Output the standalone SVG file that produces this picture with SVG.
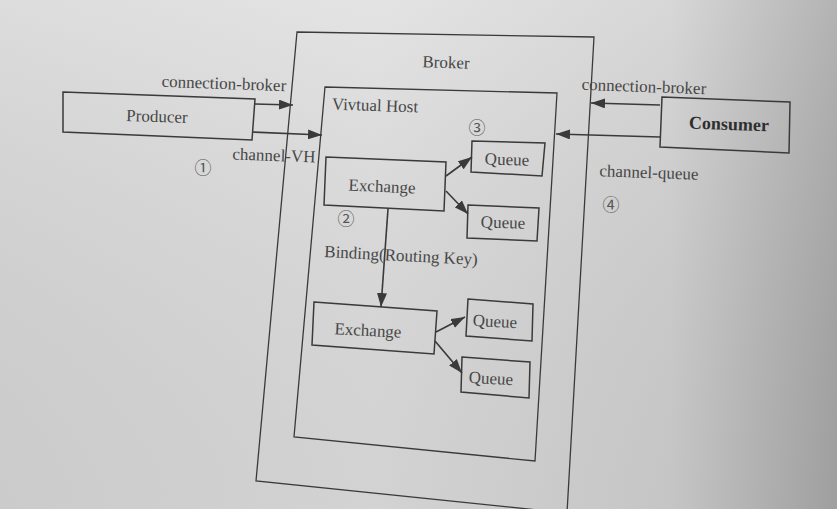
<svg xmlns="http://www.w3.org/2000/svg" width="837" height="509" viewBox="0 0 837 509">
<defs>
<linearGradient id="bg" x1="0" y1="0" x2="1" y2="0">
<stop offset="0" stop-color="#d8d8d8"/>
<stop offset="0.45" stop-color="#e0e0e0"/>
<stop offset="0.8" stop-color="#d2d2d2"/>
<stop offset="1" stop-color="#a9a9a9"/>
</linearGradient>
<linearGradient id="bgv" x1="0" y1="0" x2="0" y2="1">
<stop offset="0" stop-color="#ffffff" stop-opacity="0.12"/>
<stop offset="1" stop-color="#000000" stop-opacity="0.06"/>
</linearGradient>
<marker id="ah" viewBox="0 0 14 10" refX="14" refY="5" markerWidth="14" markerHeight="10" markerUnits="userSpaceOnUse" orient="auto">
<path d="M0,0 L14,5 L0,10 Z" fill="#3a3a3a"/>
</marker>
<style>
.box{fill:none;stroke:#3a3a3a;stroke-width:1.5}
.thin{fill:none;stroke:#3a3a3a;stroke-width:1.3}
.t{font-family:"Liberation Serif","Times New Roman",serif;font-size:17px;fill:#474747;text-anchor:middle}
.n{font-family:"Liberation Serif","Noto Sans CJK SC",serif;font-size:17px;fill:#555;text-anchor:middle}
.c{stroke:#3a3a3a;stroke-width:1.6;fill:none;marker-end:url(#ah)}
</style>
</defs>
<rect width="837" height="509" fill="url(#bg)"/>
<rect width="837" height="509" fill="url(#bgv)"/>

<g id="broker">
<polygon class="thin" points="297,32 594,37 567,513 256,481"/>
<text class="t" x="446" y="68" transform="rotate(2 446 62)">Broker</text>
</g>
<g id="vhost">
<polygon class="thin" points="325,87 557,93 535,461 294,437"/>
<text class="t" x="375" y="111" transform="rotate(2 375 105)">Vivtual Host</text>
<text class="n" x="477" y="134">③</text>
</g>
<g id="producer">
<polygon class="box" points="63,92 255,99 252,140 63,132"/>
<text class="t" x="157" y="122" transform="rotate(2 157 116)">Producer</text>
</g>
<g id="consumer">
<polygon class="box" points="662,97 790,102 789,153 660,147"/>
<text class="t" x="729" y="130" style="font-weight:bold;font-size:18px;fill:#2e2e2e" transform="rotate(2 729 123)">Consumer</text>
</g>
<g id="exchange1">
<polygon class="box" points="326,157 446,162 444,211 324,205"/>
<text class="t" x="382" y="192" transform="rotate(2.5 382 186)">Exchange</text>
<text class="n" x="346" y="225">②</text>
</g>
<g id="queue1">
<polygon class="box" points="472,141 545,143 542,176 471,172"/>
<text class="t" x="507" y="165" transform="rotate(2 507 159)">Queue</text>
</g>
<g id="queue2">
<polygon class="box" points="468,205 539,208 537,241 467,238"/>
<text class="t" x="503" y="228" transform="rotate(2 503 222)">Queue</text>
</g>
<g id="exchange2">
<polygon class="box" points="314,302 437,311 434,354 312,345"/>
<text class="t" x="368" y="336" transform="rotate(3 368 330)">Exchange</text>
</g>
<g id="queue3">
<polygon class="box" points="468,299 533,304 532,341 466,336"/>
<text class="t" x="495" y="327" transform="rotate(3 495 321)">Queue</text>
</g>
<g id="queue4">
<polygon class="box" points="462,357 530,362 529,398 461,392"/>
<text class="t" x="491" y="384" transform="rotate(3 491 378)">Queue</text>
</g>

<g id="connectors">
<line class="c" x1="255" y1="104" x2="293" y2="105"/>
<line class="c" x1="252" y1="132" x2="322" y2="135"/>
<line class="c" x1="660" y1="105" x2="591" y2="103"/>
<line class="c" x1="660" y1="137" x2="556" y2="134"/>
<line class="c" x1="446" y1="176" x2="472" y2="157"/>
<line class="c" x1="446" y1="191" x2="468" y2="214"/>
<line class="c" x1="388" y1="209" x2="381" y2="307"/>
<line class="c" x1="436" y1="332" x2="465" y2="317"/>
<line class="c" x1="435" y1="341" x2="462" y2="373"/>
</g>

<g id="labels">
<text class="t" x="224" y="89" transform="rotate(2 224 83)">connection-broker</text>
<text class="t" x="274" y="161" transform="rotate(2 274 155)">channel-VH</text>
<text class="n" x="203" y="174">①</text>
<text class="t" x="401" y="261" transform="rotate(3 401 255)">Binding(Routing Key)</text>
<text class="t" x="644" y="92" transform="rotate(2 644 86)">connection-broker</text>
<text class="t" x="649" y="178" transform="rotate(2 649 172)">channel-queue</text>
<text class="n" x="611" y="211">④</text>
</g>
</svg>
